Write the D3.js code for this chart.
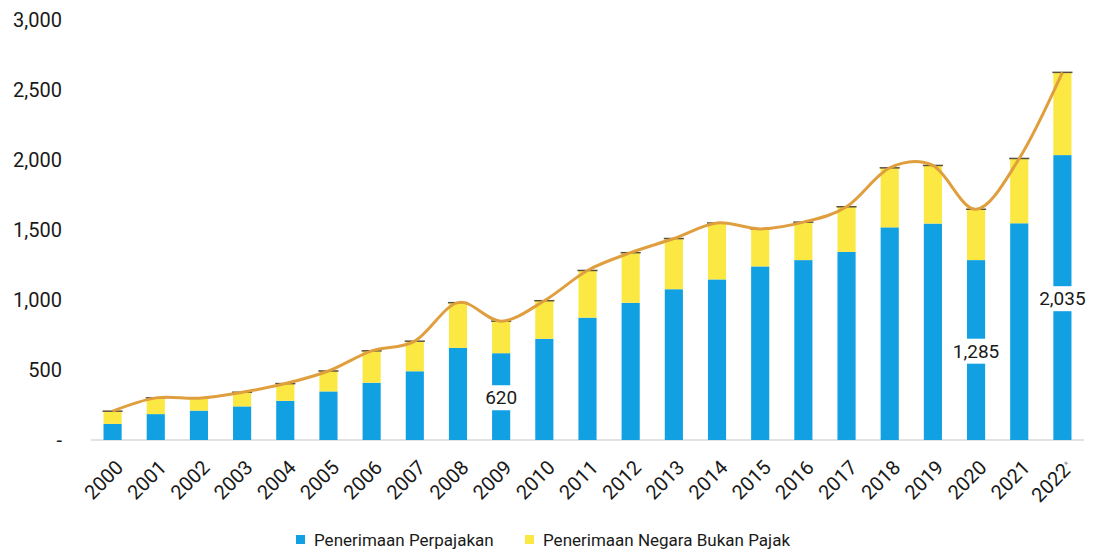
<!DOCTYPE html>
<html>
<head>
<meta charset="utf-8">
<script src="https://cdn.jsdelivr.net/npm/d3@7"></script>
<style>
    body { margin: 0; background: #fff; }
    svg text { font-family: Roboto, "Liberation Sans", sans-serif; fill: #1a1a1a; }
</style>
</head>
<body>
<div id="chart"></div>
<script>
"use strict"

// years on the x axis
let years = ["2000", "2001", "2002", "2003", "2004", "2005", "2006", "2007", "2008", "2009", "2010",
    "2011", "2012", "2013", "2014", "2015", "2016", "2017", "2018", "2019", "2020", "2021", "2022"];

// Penerimaan Perpajakan (tax revenue)
let taxRevenue = [115, 185, 210, 240, 280, 347, 409, 491, 658, 620, 723,
    874, 980, 1077, 1147, 1240, 1285, 1344, 1519, 1546, 1285, 1548, 2035];

// Penerimaan Negara Bukan Pajak (non-tax revenue)
let nonTaxRevenue = [91, 116, 89, 101, 123, 146, 228, 215, 323, 229, 272,
    337, 358, 362, 403, 268, 271, 322, 425, 415, 363, 463, 591];

let yTicks = [0, 500, 1000, 1500, 2000, 2500, 3000];

// bars that carry a value label
let labelledYears = ["2009", "2020", "2022"];

let seriesNames = ["Penerimaan Perpajakan", "Penerimaan Negara Bukan Pajak"];
let seriesColors = ["#11a0e2", "#fbe843"];

let width = 1093, height = 551;

let svg = d3.select("#chart").append("svg")
    .attr("width", width)
    .attr("height", height);

let x = d3.scaleBand()
    .domain(years)
    .range([91, 1084])
    .paddingInner(0.58)
    .paddingOuter(0.29);

let y = d3.scaleLinear()
    .domain([0, 3000])
    .range([440, 20]);

let totals = years.map((yr, i) => taxRevenue[i] + nonTaxRevenue[i]);

// y axis labels
svg.append("g")
    .selectAll("text")
    .data(yTicks)
    .join("text")
    .attr("x", 62)
    .attr("y", d => y(d))
    .attr("dy", "0.35em")
    .attr("text-anchor", "end")
    .style("font-size", "20px")
    .text(d => d === 0 ? "-" : d3.format(",")(d));

// baseline
svg.append("line")
    .attr("x1", x.range()[0])
    .attr("x2", x.range()[1])
    .attr("y1", y(0))
    .attr("y2", y(0))
    .style("stroke", "#d9d9d9")
    .style("stroke-width", "1.5px");

// stacked bars
let bars = svg.append("g");

bars.selectAll(".tax")
    .data(years)
    .join("rect")
    .attr("class", "tax")
    .attr("x", d => x(d))
    .attr("width", x.bandwidth())
    .attr("y", (d, i) => y(taxRevenue[i]))
    .attr("height", (d, i) => y(0) - y(taxRevenue[i]))
    .style("fill", seriesColors[0]);

bars.selectAll(".nontax")
    .data(years)
    .join("rect")
    .attr("class", "nontax")
    .attr("x", d => x(d))
    .attr("width", x.bandwidth())
    .attr("y", (d, i) => y(totals[i]))
    .attr("height", (d, i) => y(taxRevenue[i]) - y(totals[i]))
    .style("fill", seriesColors[1]);

// small caps on top of each bar
bars.selectAll(".cap")
    .data(years)
    .join("line")
    .attr("class", "cap")
    .attr("x1", d => x(d) - 1)
    .attr("x2", d => x(d) + x.bandwidth() + 1)
    .attr("y1", (d, i) => y(totals[i]))
    .attr("y2", (d, i) => y(totals[i]))
    .style("stroke", "#5a5040")
    .style("stroke-width", "1.5px");

// smoothed total line
let lineFunc = d3.line()
    .x((d, i) => x(years[i]) + x.bandwidth() / 2)
    .y(d => y(d))
    .curve(d3.curveCardinal.tension(0));

svg.append("path")
    .attr("d", lineFunc(totals))
    .style("fill", "none")
    .style("stroke", "#e09f3e")
    .style("stroke-width", "3px");

// value labels with white background
let labels = svg.append("g")
    .selectAll("g")
    .data(labelledYears)
    .join("g")
    .attr("transform", d => {
        let i = years.indexOf(d);
        return "translate(" + (x(d) + x.bandwidth() / 2) + "," + (y(taxRevenue[i] / 2) + 1) + ")";
    });

labels.each(function(d) {
    let i = years.indexOf(d);
    let g = d3.select(this);
    let t = g.append("text")
        .attr("text-anchor", "middle")
        .attr("dy", "0.35em")
        .style("font-size", "19px")
        .text(d3.format(",")(taxRevenue[i]));
    let bb = t.node().getBBox();
    g.insert("rect", "text")
        .attr("x", bb.x - 2)
        .attr("y", bb.y - 1)
        .attr("width", bb.width + 4)
        .attr("height", bb.height + 2)
        .style("fill", "#fff");
});

// x axis labels, rotated
let xLabels = svg.append("g")
    .selectAll("text")
    .data(years)
    .join("text")
    .attr("transform", d => "translate(" + (x(d) + x.bandwidth() / 2 + 2) + ",459) rotate(-45)")
    .attr("text-anchor", "end")
    .attr("dy", "0.7em")
    .style("font-size", "20px");

xLabels.append("tspan").text(d => d);
xLabels.filter(d => d === "2022")
    .append("tspan")
    .attr("dy", "-0.6em")
    .style("font-size", "9px")
    .style("fill", "#888")
    .text("*");

// legend
let legend = svg.append("g")
    .attr("transform", "translate(296,540)");

let legendX = [0, 229];

let items = legend.selectAll("g")
    .data(seriesNames)
    .join("g")
    .attr("transform", (d, i) => "translate(" + legendX[i] + ",0)");

items.append("rect")
    .attr("x", 0)
    .attr("y", -5)
    .attr("width", 9)
    .attr("height", 9)
    .style("fill", (d, i) => seriesColors[i]);

items.append("text")
    .attr("x", 18)
    .attr("y", 0)
    .attr("dy", "0.35em")
    .style("font-size", "17px")
    .text(d => d);
</script>
</body>
</html>
